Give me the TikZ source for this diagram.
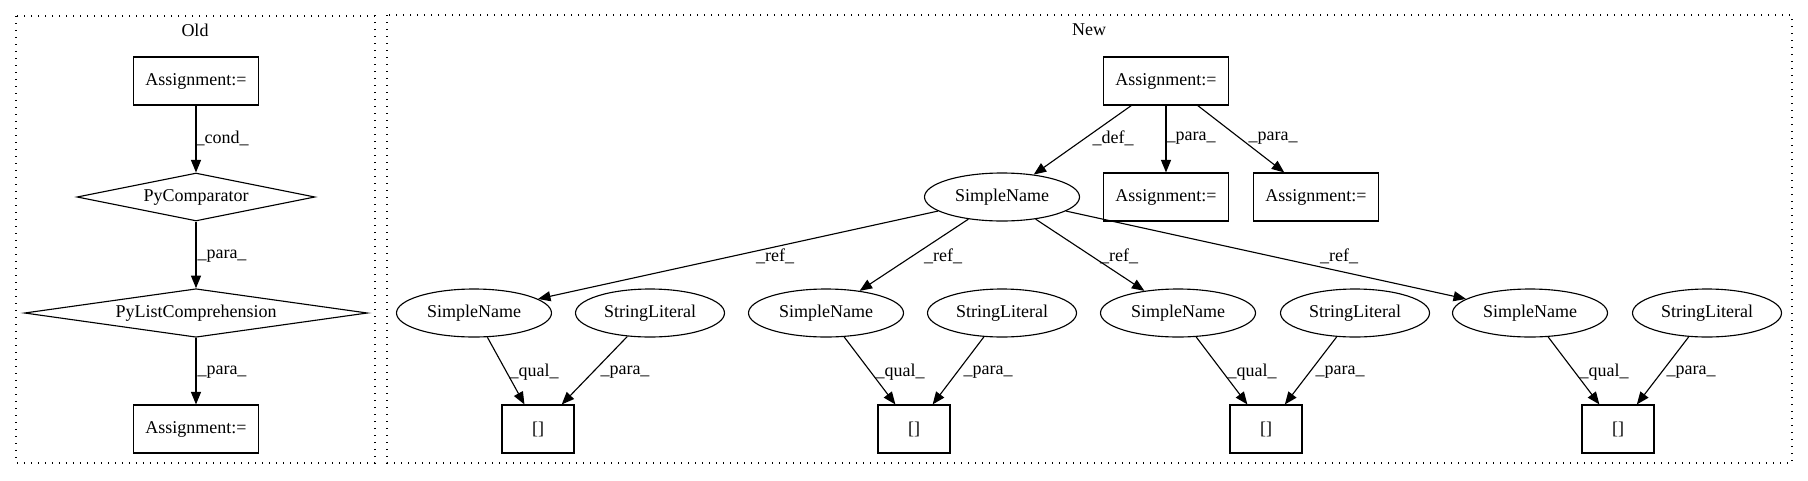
\documentclass[tikz,border=0pt]{standalone}
\usepackage{fontspec}
\setmainfont{Liberation Serif}
\usetikzlibrary{arrows.meta,shapes.geometric}

\begin{document}
\begin{tikzpicture}[x=0.8pt,y=-0.8pt,
		font=\fontsize{14.4}{16}\selectfont,
		every node/.style={inner sep=0pt},
		ast/.style={draw, line width=0.9pt, rectangle, minimum width=100pt, minimum height=38.4pt},
		idx/.style={ast, minimum width=57.6pt},
		nam/.style={draw, line width=0.9pt, ellipse, minimum width=124pt, minimum height=38.4pt},
		lit/.style={nam, minimum width=119.2pt},
		cmp/.style={draw, line width=0.9pt, diamond, aspect=5, minimum width=190.4pt, minimum height=38.4pt},
		flow/.style={-{Triangle[length=10pt,width=8pt]}, line width=0.9pt},
		clus/.style={draw, line width=0.9pt, dash pattern=on 1pt off 4.6pt}]
	\useasboundingbox (0,0) rectangle (1808,480);
	% clusters
	\draw[clus] (16,16) rectangle (375,463);
	\draw[clus] (387,15) rectangle (1792,463);
	\node (old) at (195,30) {Old};
	\node (new) at (1089,30) {New};
	% old
	\node[ast] (oa1) at (196,81) {Assignment:=};
	\node[cmp] (ocmp) at (196,197) {PyComparator};
	\node[cmp, minimum width=274.4pt] (olc) at (196,313) {PyListComprehension};
	\node[ast] (oa2) at (196,429) {Assignment:=};
	\draw[flow] (oa1) -- (ocmp);
	\draw[flow] (ocmp) -- (olc);
	\draw[flow] (olc) -- (oa2);
	\node (ocond) at (222,138) {\_cond\_};
	\node (opara1) at (222,256) {\_para\_};
	\node (opara2) at (222,372) {\_para\_};
	% new
	\node[ast] (na) at (1166,81) {Assignment:=};
	\node[nam] (nsn) at (1002,197) {SimpleName};
	\node[ast] (na1) at (1166,197) {Assignment:=};
	\node[ast] (na2) at (1316,197) {Assignment:=};
	\draw[flow] (na) -- (nsn);
	\draw[flow] (na) -- (na1);
	\draw[flow] (na) -- (na2);
	\node (ndef) at (1113,138) {\_def\_};
	\node (npara1) at (1191,138) {\_para\_};
	\node (npara2) at (1273,138) {\_para\_};
	\node[nam] (sn1) at (474,313) {SimpleName};
	\node[lit] (sl1) at (650,313) {StringLiteral};
	\node[idx] (ix1) at (538,429) {[]};
	\node[nam] (sn2) at (826,313) {SimpleName};
	\node[lit] (sl2) at (1002,313) {StringLiteral};
	\node[idx] (ix2) at (914,429) {[]};
	\node[nam] (sn3) at (1178,313) {SimpleName};
	\node[lit] (sl3) at (1355,313) {StringLiteral};
	\node[idx] (ix3) at (1266,429) {[]};
	\node[nam] (sn4) at (1530,313) {SimpleName};
	\node[lit] (sl4) at (1707,313) {StringLiteral};
	\node[idx] (ix4) at (1618,429) {[]};
	\draw[flow] (nsn) -- (sn1);
	\draw[flow] (nsn) -- (sn2);
	\draw[flow] (nsn) -- (sn3);
	\draw[flow] (nsn) -- (sn4);
	\node (nref1) at (775,256) {\_ref\_};
	\node (nref2) at (943,256) {\_ref\_};
	\node (nref3) at (1119,256) {\_ref\_};
	\node (nref4) at (1339,256) {\_ref\_};
	\draw[flow] (sn1) -- (ix1);
	\draw[flow] (sl1) -- (ix1);
	\draw[flow] (sn2) -- (ix2);
	\draw[flow] (sl2) -- (ix2);
	\draw[flow] (sn3) -- (ix3);
	\draw[flow] (sl3) -- (ix3);
	\draw[flow] (sn4) -- (ix4);
	\draw[flow] (sl4) -- (ix4);
	\node (nqual1) at (534,372) {\_qual\_};
	\node (nlpara1) at (625,372) {\_para\_};
	\node (nqual2) at (900,372) {\_qual\_};
	\node (nlpara2) at (988,372) {\_para\_};
	\node (nqual3) at (1252,372) {\_qual\_};
	\node (nlpara3) at (1340,372) {\_para\_};
	\node (nqual4) at (1604,372) {\_qual\_};
	\node (nlpara4) at (1691,372) {\_para\_};
\end{tikzpicture}
\end{document}
